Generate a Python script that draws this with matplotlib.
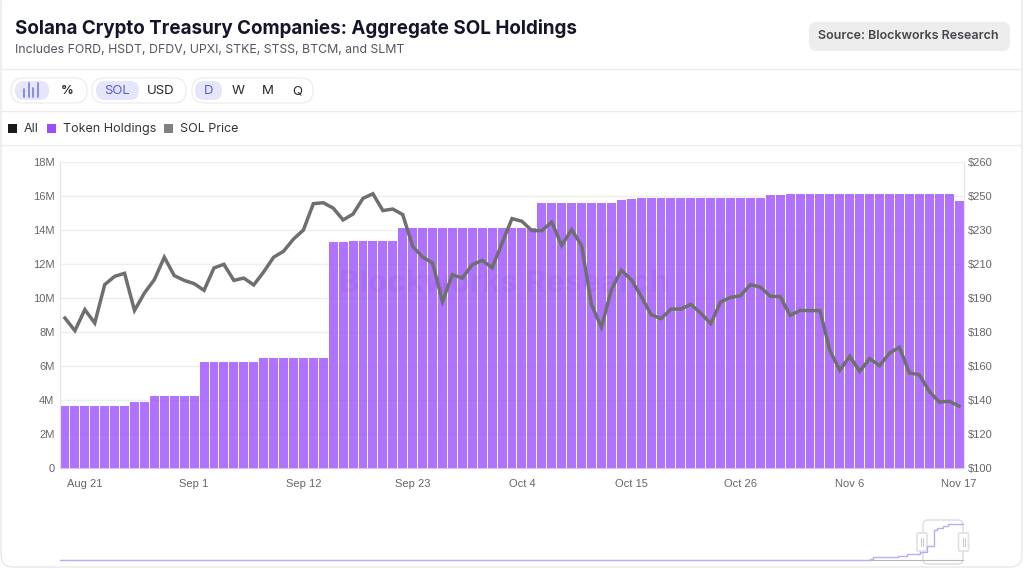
import numpy as np
import matplotlib
matplotlib.use("Agg")
import matplotlib.pyplot as plt
from matplotlib.patches import FancyBboxPatch, Rectangle

# daily token holdings, millions of SOL (Aug 19 -> Nov 17)
holdings = [3.65]*7 + [3.87]*2 + [4.25]*5 + [6.25]*6 + [6.45]*7 + [13.3]*2 + [13.38]*5 \
    + [14.12]*14 + [15.57]*8 + [15.75, 15.83] + [15.89]*13 + [16.04]*2 + [16.11]*17 + [15.73]

sol_price = [178.4, 171.8, 182.8, 175.8, 195.9, 200.2, 201.8, 182.4, 191.5, 198.5,
             210.2, 200.6, 198.1, 196.4, 192.9, 204.6, 206.5, 198.1, 199.3, 195.7,
             202.5, 210.2, 213.3, 219.7, 224.4, 238.2, 238.7, 235.9, 229.7, 232.8,
             241.0, 243.4, 234.6, 235.4, 232.5, 215.9, 210.3, 207.2, 187.1, 201.1,
             199.3, 206.3, 208.6, 204.7, 217.6, 230.4, 229.0, 224.1, 224.1, 228.6,
             216.4, 224.6, 216.4, 185.4, 173.6, 193.2, 203.4, 198.5, 189.8, 180.2,
             178.1, 183.1, 183.1, 185.6, 181.0, 175.5, 186.8, 189.2, 190.1, 195.9,
             194.6, 189.8, 189.6, 179.8, 182.4, 182.3, 182.3, 161.4, 151.1, 158.4,
             150.5, 157.2, 153.5, 160.1, 163.1, 149.7, 148.8, 140.1, 134.5, 134.9,
             132.4]

x_ticks = [2, 13, 24, 35, 46, 57, 68, 79, 90]
x_labels = ["Aug 21", "Sep 1", "Sep 12", "Sep 23", "Oct 4", "Oct 15", "Oct 26", "Nov 6", "Nov 17"]
left_ticks = [0, 2, 4, 6, 8, 10, 12, 14, 16, 18]
left_labels = ["0", "2M", "4M", "6M", "8M", "10M", "12M", "14M", "16M", "18M"]
right_labels = ["$100", "$120", "$140", "$160", "$180", "$190", "$210", "$230", "$250", "$260"]

# navigator: full history, day number vs holdings (M)
nav_days = [0, 1701, 1755, 1762, 1816, 1835, 1864, 1879, 1894, 1900, 1913, 1924, 1939, 1957]
nav_values = [0, 0.1, 0.5, 1.4, 1.9, 2.9, 3.9, 6.45, 13.35, 14.1, 15.0, 15.9, 16.1, 16.1]

W, H = 1024, 569
fig = plt.figure(figsize=(W/100, H/100), dpi=100, facecolor="white")
ui_font = ["Inter", "DejaVu Sans"]
tick_font = ["Liberation Sans", "DejaVu Sans"]

# page chrome, in pixels
ui = fig.add_axes([0, 0, 1, 1], zorder=0)
ui.set_xlim(0, W)
ui.set_ylim(H, 0)
ui.axis("off")


def pill(x0, y0, x1, y1, r, fc, ec="none", lw=1.0):
    ui.add_patch(FancyBboxPatch((x0+r, y0+r), x1-x0-2*r, y1-y0-2*r, boxstyle=f"round,pad={r},rounding_size={r}",
                                fc=fc, ec=ec, lw=lw))


pill(1, -8, 1022, 567, 12, "white", "#e9e9ec", 1.0)
for yy in [69, 111, 145]:
    ui.plot([1, 1022], [yy, yy], color="#ececee", lw=1)

ui.text(15, 28, "Solana Crypto Treasury Companies: Aggregate SOL Holdings", fontsize=13.53, fontweight="bold",
        color="#14142b", family=ui_font, va="center")
ui.text(15, 50, "Includes FORD, HSDT, DFDV, UPXI, STKE, STSS, BTCM, and SLMT", fontsize=8.85,
        color="#55555f", family=ui_font, va="center")

pill(809, 22, 1010, 51, 7, "#ededee")
ui.text(908, 36, "Source: Blockworks Research", fontsize=9.0, fontweight="semibold", color="#46464c",
        family=ui_font, ha="center", va="center")

for x0, x1 in [(11, 87), (92, 186), (192, 313)]:
    pill(x0, 78, x1, 103, 12, "white", "#eeeef2", 1.0)
for x0, x1 in [(15, 49), (96, 139), (195, 222)]:
    pill(x0, 81, x1, 100, 9, "#e6e6fa")
for bx, bh in zip([24, 28.5, 33, 37.5], [8, 14, 9, 14]):
    ui.plot([bx, bx], [97-bh, 97], color="#7a7adc", lw=1.2, solid_capstyle="round")
ui.text(67, 91, "%", fontsize=9, fontweight="bold", color="#333338", family=ui_font, ha="center", va="center")
for tx, label, col in [(117, "SOL", "#5b5bd6"), (161, "USD", "#26262c"), (209, "D", "#5b5bd6"),
                       (238, "W", "#26262c"), (268, "M", "#26262c"), (297, "Q", "#26262c")]:
    ui.text(tx, 91, label, fontsize=9.5, color=col, family=ui_font, ha="center", va="center")

for x0, col, tx, label in [(8, "#1a1a1a", 24, "All"), (47, "#9b4dff", 63, "Token Holdings"),
                           (164, "#808080", 180, "SOL Price")]:
    ui.add_patch(Rectangle((x0, 124), 9, 9, fc=col, ec="none"))
    ui.text(tx, 128.5, label, fontsize=9.0, color="#33333a", family=ui_font, va="center")

# main chart
x = np.arange(len(holdings))
ax = fig.add_axes([60/W, (H-468)/H, 904/W, 306/H], zorder=1)
ax.patch.set_alpha(0)
ax.set_axisbelow(True)
ax.grid(axis="y", color="#eeeeef", lw=1)
ax.bar(x, holdings, width=0.9, color="#a25aff", alpha=0.85, lw=0)
ax.set_xlim(-0.5, len(holdings)-0.5)
ax.set_ylim(0, 18)
ax.set_yticks(left_ticks)
ax.set_yticklabels(left_labels)
ax.set_xticks(x_ticks)
ax.set_xticklabels(x_labels)
ax.tick_params(length=0, labelsize=8, labelcolor="#666666", pad=4)
ax.tick_params(axis="x", pad=8)
for lab in ax.get_xticklabels() + ax.get_yticklabels():
    lab.set_family(tick_font)
for s in ["top", "right"]:
    ax.spines[s].set_visible(False)
ax.spines["left"].set_color("#e4e4e6")
ax.spines["bottom"].set_color("#d9c3fb")

ax2 = ax.twinx()
ax2.plot(x, sol_price, color="#6f6f6f", lw=2.5, solid_joinstyle="miter")
ax2.set_ylim(100, 260)
ax2.set_yticks(np.linspace(100, 260, 10))
ax2.set_yticklabels(right_labels)
ax2.tick_params(length=0, labelsize=8, labelcolor="#666666", pad=3)
for lab in ax2.get_yticklabels():
    lab.set_family(tick_font)
for s in ["top", "left", "bottom"]:
    ax2.spines[s].set_visible(False)
ax2.spines["right"].set_color("#e4e4e6")

# faint watermark across the bars
ax.text(0.491, 0.6, "Blockworks Research", transform=ax.transAxes, fontsize=22.5, fontweight="bold", family=ui_font,
        color="#6a2fc0", alpha=0.1, ha="center", va="center")

# navigator
nav = fig.add_axes([60/W, (H-567)/H, 904/W, 47/H], zorder=1)
nav.patch.set_alpha(0)
nav.plot([0, 1957], [0, 0], color="#b8b8bc", lw=0.8)
nav.step(nav_days, nav_values, where="post", color="#c0aaf0", lw=1)
nav.set_xlim(0, 1959)
nav.set_ylim(-2.9, 17.8)
nav.axis("off")

ui.add_patch(FancyBboxPatch((926, 523), 34, 38, boxstyle="round,pad=3,rounding_size=5", fc="none", ec="#dcdce0", lw=1))
for hx in [922, 963.5]:
    pill(hx-5, 533, hx+5, 551, 1, "white", "#e2e2e6", 1.2)
    ui.plot([hx-1, hx-1], [538, 546], color="#c8c8cc", lw=0.7)
    ui.plot([hx+1, hx+1], [538, 546], color="#c8c8cc", lw=0.7)

fig.savefig("out.png", dpi=100)
